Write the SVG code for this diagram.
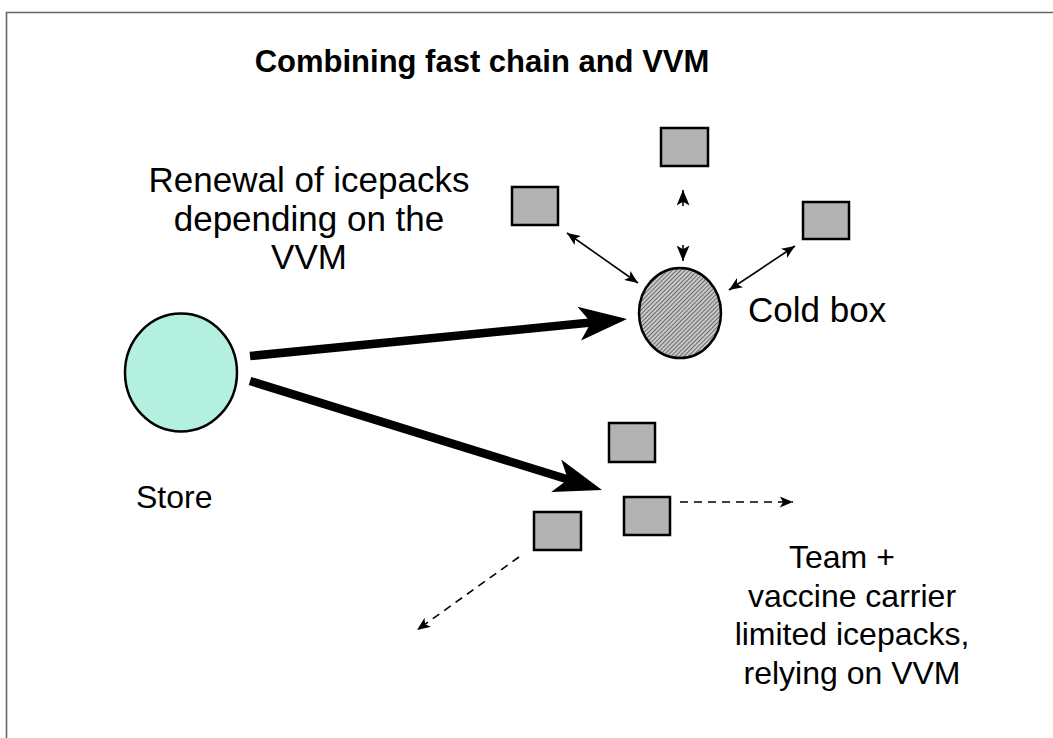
<svg xmlns="http://www.w3.org/2000/svg" width="1053" height="738" viewBox="0 0 1053 738">
<style>
text{font-family:"Liberation Sans",Arial,sans-serif;fill:#000}
.lbl{font-size:32px}
.big{font-size:35px}
.title{font-size:31px;font-weight:bold}
.sq{fill:#b3b3b3;stroke:#000;stroke-width:2.5}
.thin{stroke:#000;stroke-width:1.6;fill:none}
.dash{stroke:#000;stroke-width:1.6;fill:none;stroke-dasharray:8 6}
.thick{stroke:#000;stroke-width:8.5;fill:none}
</style>
<defs>
<pattern id="hatch" width="3" height="3" patternUnits="userSpaceOnUse" patternTransform="rotate(45)">
<rect width="3" height="3" fill="#c8c8c8"/>
<line x1="0" y1="0" x2="0" y2="3" stroke="#3a3a3a" stroke-width="1.3"/>
</pattern>
<marker id="ah" viewBox="0 0 12 10" refX="12" refY="5" markerWidth="15" markerHeight="11" markerUnits="userSpaceOnUse" orient="auto-start-reverse">
<path d="M0,0 L12,5 L0,10 L3,5 z" fill="#000"/>
</marker>
<marker id="ahv" viewBox="0 0 12 10" refX="12" refY="5" markerWidth="18" markerHeight="13" markerUnits="userSpaceOnUse" orient="auto">
<path d="M0,0 L12,5 L0,10 L3,5 z" fill="#000"/>
</marker>
</defs>
<rect width="1053" height="738" fill="#fff"/>
<path d="M6.5,738 V12.5 H1053" fill="none" stroke="#666" stroke-width="1.6"/>
<text class="title" x="482" y="72" text-anchor="middle">Combining fast chain and VVM</text>
<g id="connectors">
<line class="thick" x1="250" y1="356" x2="591" y2="322.5"/>
<path d="M627,319 L577.5,306.8 L591,322.5 L581,340.6 Z" fill="#000"/>
<line class="thick" x1="250" y1="381" x2="568" y2="479.5"/>
<path d="M602,490 L561.2,459.6 L568,479.5 L551.2,492 Z" fill="#000"/>
<line class="thin" x1="567" y1="233" x2="638" y2="283" marker-start="url(#ah)" marker-end="url(#ah)"/>
<line class="thin" x1="729" y1="290" x2="795" y2="246" marker-start="url(#ah)" marker-end="url(#ah)"/>
<line class="thin" x1="683" y1="206" x2="683" y2="190" marker-end="url(#ahv)"/>
<line class="thin" x1="683" y1="245" x2="683" y2="261" marker-end="url(#ahv)"/>
<line class="dash" x1="680" y1="502" x2="793" y2="502" marker-end="url(#ah)"/>
<line class="dash" x1="519" y1="557" x2="417" y2="630" marker-end="url(#ah)"/>
</g>
<g id="store">
<ellipse cx="181" cy="372.5" rx="56" ry="59" fill="#b3f0e0" stroke="#000" stroke-width="2.5"/>
<text class="lbl" x="136" y="508">Store</text>
</g>
<g id="coldbox">
<ellipse cx="680" cy="313" rx="41" ry="45" fill="url(#hatch)" stroke="#000" stroke-width="2.5"/>
<text class="big" x="748" y="322">Cold box</text>
</g>
<g id="renewal-label">
<text class="big" text-anchor="middle" x="309"><tspan x="309" y="192">Renewal of icepacks</tspan><tspan x="309" y="231">depending on the</tspan><tspan x="309" y="269">VVM</tspan></text>
</g>
<g id="pack-top"><rect class="sq" x="661" y="128" width="47" height="38"/></g>
<g id="pack-left"><rect class="sq" x="512" y="187" width="46" height="38"/></g>
<g id="pack-right"><rect class="sq" x="803" y="202" width="46" height="37"/></g>
<g id="team-pack-1"><rect class="sq" x="609" y="423" width="46" height="39"/></g>
<g id="team-pack-2"><rect class="sq" x="624" y="497" width="46" height="38"/></g>
<g id="team-pack-3"><rect class="sq" x="534" y="512" width="47" height="38"/></g>
<g id="team-label">
<text class="lbl"><tspan x="789" y="568">Team +</tspan><tspan x="852" y="607" text-anchor="middle">vaccine carrier</tspan><tspan x="852" y="645" text-anchor="middle">limited icepacks,</tspan><tspan x="852" y="684" text-anchor="middle">relying on VVM</tspan></text>
</g>
</svg>
